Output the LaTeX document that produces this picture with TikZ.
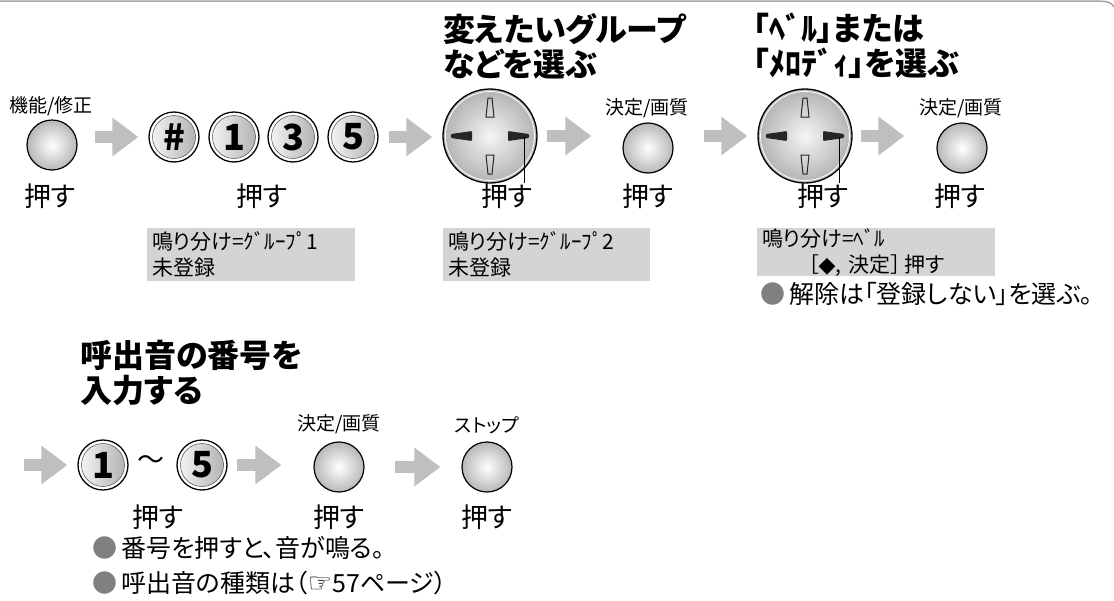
\documentclass[tikz,border=0pt]{standalone}
\usepackage{fontspec}
\setmainfont{Noto Sans CJK JP}[RawFeature=+palt]
\newfontfamily\symfont{DejaVu Sans}
\usetikzlibrary{arrows.meta,calc}

\colorlet{flowgray}{black!25}
\colorlet{dispgray}{black!17}
\colorlet{dotgray}{black!50}

\tikzset{
  btn/.style={circle, draw, line width=1.2pt, minimum size=50pt, inner sep=0pt, inner color=white, outer color=black!28},
  numkey/.style={circle, draw, line width=1.3pt, minimum size=50pt, inner sep=0pt, fill=white,
    font=\fontsize{36}{36}\selectfont\bfseries,
    path picture={
      \shade[left color=black!3, right color=black!32] (path picture bounding box.center) circle (21.5pt);
      \draw[black!70, line width=0.5pt] (path picture bounding box.center) circle (21.5pt);}},
  padkey/.style={circle, draw, line width=1.3pt, minimum size=94pt, inner sep=0pt, inner color=black!4, outer color=black!30,
    path picture={\draw[white, line width=0.8pt] (path picture bounding box.center) circle (44.5pt);}},
  keylbl/.style={font=\fontsize{19}{19}\selectfont, inner sep=0pt},
  push/.style={font=\fontsize{27}{27}\selectfont, inner sep=0pt},
  head/.style={font=\fontsize{32}{35}\selectfont\bfseries, align=left, anchor=north west, inner sep=0pt},
  disp/.style={fill=dispgray, anchor=north west, align=left, inner xsep=5pt, inner ysep=0pt,
    font=\fontsize{21}{26}\selectfont},
  note/.style={font=\fontsize{25}{25}\selectfont, anchor=west, inner sep=0pt},
  flow/.style={draw=flowgray, line width=12pt, -{Triangle[length=26pt,width=37pt]}}
}

% arrow marks on a pad key, #1 = node name
\newcommand\padmarks[1]{%
  \begin{scope}[shift={(#1.center)}]
    \fill[black!85, rounded corners=1pt] (-39,-2) -- (-18,-5) -- (-18,5) -- (-39,2) -- cycle;
    \fill[black!85, rounded corners=1pt] (39,-2) -- (18,-5) -- (18,5) -- (39,2) -- cycle;
    \draw[black!85, line width=1pt] (-2,-38) -- (2,-38) -- (4,-19) -- (-4,-19) -- cycle;
    \draw[black!85, line width=1pt] (-4,19) -- (4,19) -- (2,38) -- (-2,38) -- cycle;
    \coordinate (#1r) at (34,1);
  \end{scope}}

\begin{document}
\begin{tikzpicture}[x=1pt, y=-1pt]
\useasboundingbox (0,0) rectangle (1114,600);
\draw[black!35, line width=1.5pt] (0,1.2) -- (1100,1.2) .. controls (1108,1.2) and (1112,3) .. (1114,7);

% headings
\node[head] (h1) at (443,13) {変えたいグループ\\などを選ぶ};
\node[head] (h2) at (753,13) {「ﾍﾞﾙ」または\\「ﾒﾛﾃﾞｨ」を選ぶ};

% first row
\node[keylbl] (l0) at (51,106) {機能/修正};
\node[btn] (b0) at (52,145) {};
\node[numkey] (k1) at (174,137) {\#};
\node[numkey] (k2) at (234,137) {1};
\node[numkey] (k3) at (293,137) {3};
\node[numkey] (k4) at (353,137) {5};
\node[padkey] (d1) at (490,136) {};
\padmarks{d1}
\node[keylbl] (l1) at (647,108) {決定/画質};
\node[btn] (c1) at (648,148) {};
\node[padkey] (d2) at (805,136) {};
\padmarks{d2}
\node[keylbl] (l2) at (961,108) {決定/画質};
\node[btn] (c2) at (962,148) {};

\node[push] (p0) at (50,196) {押す};
\node[push] (p1) at (262,196) {押す};
\node[push] (p2) at (507,196) {押す};
\node[push] (p3) at (648,196) {押す};
\node[push] (p4) at (823,196) {押す};
\node[push] (p5) at (960,196) {押す};

\draw[line width=0.8pt] (d1r) -- (d1r |- p2.north);
\draw[line width=0.8pt] (d2r) -- (d2r |- p4.north);

\draw[flow, shorten <=17pt, shorten >=10pt] (b0.east |- k1.west) -- (k1.west);
\draw[flow, shorten <=10pt, shorten >=10pt] (k4.east) -- (k4.east -| d1.west);
\draw[flow, shorten <=9pt, shorten >=31pt] (d1.east) -- (d1.east -| c1.west);
\draw[flow, shorten <=30pt, shorten >=10pt] (c1.east |- d2.west) -- (d2.west);
\draw[flow, shorten <=8pt, shorten >=32pt] (d2.east) -- (d2.east -| c2.west);

% displays
\node[disp, minimum width=208pt, minimum height=53pt, text width=198pt] (s1) at (147,228) {鳴り分け=ｸﾞﾙｰﾌﾟ1\\未登録};
\node[disp, minimum width=207pt, minimum height=53pt, text width=197pt] (s2) at (443,228) {鳴り分け=ｸﾞﾙｰﾌﾟ2\\未登録};
\node[disp, minimum width=238pt, minimum height=48pt, text width=228pt] (s3) at (757,228) {鳴り分け=ﾍﾞﾙ\\\hspace*{46pt}［{\symfont\fontsize{22}{22}\selectfont ◆}, 決定］\,押す};
\node[note] (n1) at (760,294) {\textcolor{dotgray}{●}\,解除は「登録しない」を選ぶ。};

% second part
\node[head] (h3) at (80,340) {呼出音の番号を\\入力する};
\coordinate (st) at (24,465);
\node[numkey] (k5) at (103,465) {1};
\node[push] (tl) at (151,463) {～};
\node[numkey] (k6) at (202,465) {5};
\node[keylbl] (l3) at (339,424) {決定/画質};
\node[btn] (c3) at (339,467) {};
\node[keylbl] (l4) at (487,425) {ストップ};
\node[btn] (c4) at (487,467) {};

\draw[flow, shorten >=10pt] (st) -- (st -| k5.west);
\draw[flow, shorten <=9pt, shorten >=32pt] (k6.east) -- (k6.east -| c3.west);
\draw[flow, shorten <=30pt, shorten >=21pt] (c3.east) -- (c3.east -| c4.west);

\node[push] (p6) at (158,517) {押す};
\node[push] (p7) at (339,517) {押す};
\node[push] (p8) at (487,517) {押す};

\node[note] (n2) at (92,548) {\textcolor{dotgray}{●}\,番号を押すと、音が鳴る。};
\node[note] (n3) at (92,583) {\textcolor{dotgray}{●}\,呼出音の種類は（{\symfont\fontsize{27}{27}\selectfont ☞}57ページ）};
\end{tikzpicture}
\end{document}
